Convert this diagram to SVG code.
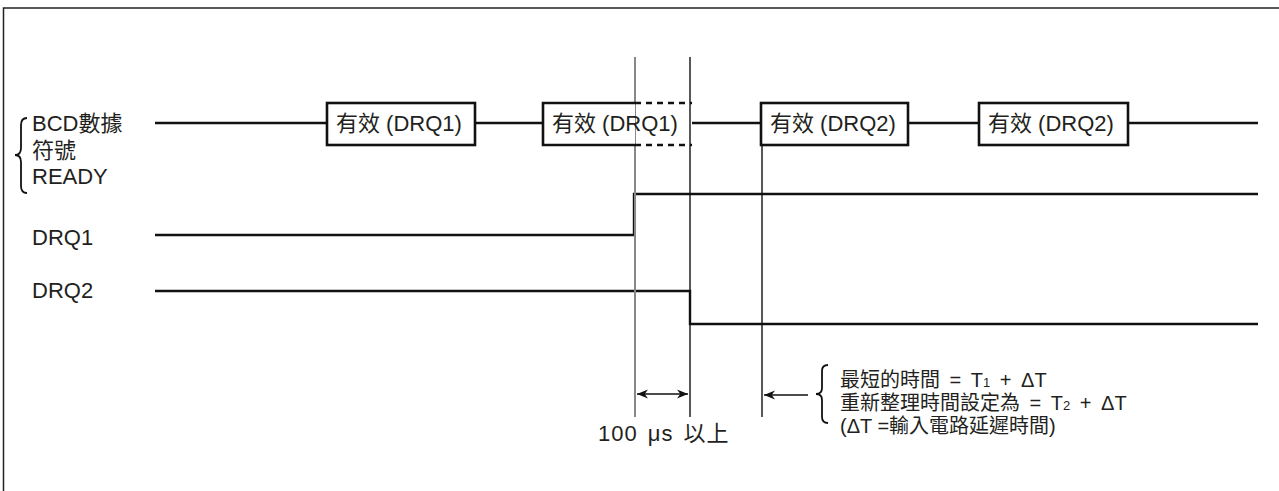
<svg xmlns="http://www.w3.org/2000/svg" width="1279" height="491" viewBox="0 0 1279 491">
<style>
text{font-family:"Liberation Sans","Noto Sans CJK TC",sans-serif;fill:#231f20;font-size:22px}
.sig{fill:none;stroke:#111;stroke-width:2.4}
.box{fill:#fff;stroke:#111;stroke-width:2.6}
.vl{stroke:#111;stroke-width:1.4}
.vg{stroke:#888;stroke-width:2}
.br{fill:none;stroke:#111;stroke-width:1.8}
.note{font-size:20px}
</style>
<defs>
<marker id="ah" viewBox="0 0 10 10" refX="10" refY="5" markerWidth="11" markerHeight="11" markerUnits="userSpaceOnUse" orient="auto-start-reverse">
<path d="M0,1 L10,5 L0,9 L3,5 Z" fill="#111"/>
</marker>
</defs>
<rect x="3.5" y="8" width="1300" height="500" fill="none" stroke="#222" stroke-width="1.5"/>
<g id="connectors">
<path class="sig" d="M155,123 H327 M475,123 H543 M692,123 H761 M908,123 H979 M1128,123 H1258"/>
<path class="sig" d="M155,235 H634 V194 H1258"/>
<path class="sig" d="M155,291 H690 V324 H1258"/>
<line class="vg" x1="635" y1="57" x2="635" y2="417"/>
<line class="vl" x1="690" y1="57" x2="690" y2="417"/>
<line class="vl" x1="762" y1="145" x2="762" y2="417"/>
<line class="vl" x1="637" y1="394" x2="688" y2="394" marker-start="url(#ah)" marker-end="url(#ah)"/>
<line class="vl" x1="808" y1="395" x2="764" y2="395" marker-end="url(#ah)"/>
</g>
<g id="label-left">
<path class="br" d="M27,118 Q21,118 21,125 V148 Q21,155 15,155 Q21,155 21,162 V186 Q21,193 27,193"/>
<text x="32" y="131">BCD數據</text>
<text x="32" y="158">符號</text>
<text x="32" y="184">READY</text>
</g>
<g id="label-drq1"><text x="32" y="245">DRQ1</text></g>
<g id="label-drq2"><text x="32" y="298">DRQ2</text></g>
<g id="box1">
<rect class="box" x="327" y="103" width="148" height="42"/>
<text x="336" y="131">有效 (DRQ1)</text>
</g>
<g id="box2">
<path class="box" d="M635,103 H543 V145 H635"/>
<path fill="none" stroke="#111" stroke-width="2.6" stroke-dasharray="6,5" d="M635,103 H692 M635,145 H692"/>
<text x="552" y="131">有效 (DRQ1)</text>
</g>
<g id="box3">
<rect class="box" x="761" y="103" width="147" height="42"/>
<text x="770" y="131">有效 (DRQ2)</text>
</g>
<g id="box4">
<rect class="box" x="979" y="103" width="149" height="42"/>
<text x="988" y="131">有效 (DRQ2)</text>
</g>
<g id="label-100us">
<text x="598" y="441" font-size="21" letter-spacing="1" word-spacing="3">100 μs 以上</text>
</g>
<g id="note">
<path class="br" d="M828,365 Q822,365 822,371 V388 Q822,394 816,394 Q822,394 822,400 V417 Q822,423 828,423"/>
<text class="note" x="840" y="387" word-spacing="4">最短的時間 = T<tspan font-size="13">1</tspan> + ΔT</text>
<text class="note" x="840" y="410" word-spacing="4">重新整理時間設定為 = T<tspan font-size="13">2</tspan> + ΔT</text>
<text class="note" x="840" y="433">(ΔT =輸入電路延遲時間)</text>
</g>
</svg>
